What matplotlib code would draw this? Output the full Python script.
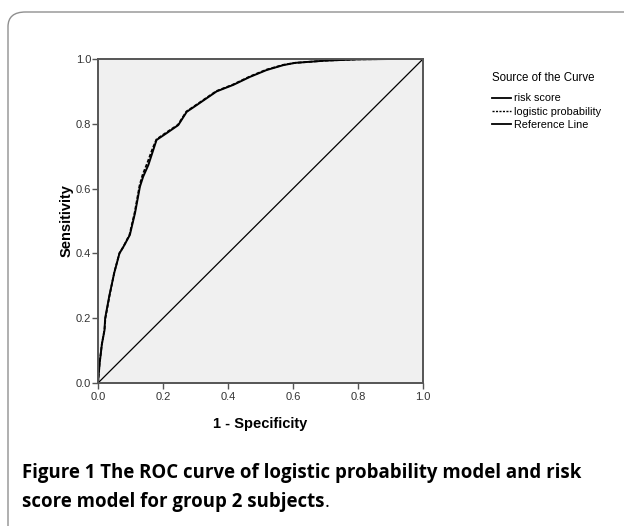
#!/usr/bin/env python3
import matplotlib
matplotlib.use("Agg")
import matplotlib.pyplot as plt
from matplotlib.patches import FancyBboxPatch
from matplotlib.lines import Line2D

# ============================================================
# DATA
# ============================================================
RISK_FPR = [0.0, 0.005, 0.012, 0.020, 0.022, 0.035, 0.050, 0.066, 0.078, 0.098,
            0.114, 0.129, 0.139, 0.155, 0.170, 0.180, 0.211, 0.247, 0.273, 0.304,
            0.365, 0.416, 0.468, 0.519, 0.570, 0.606, 0.700, 0.800, 0.900, 1.0]
RISK_TPR = [0.0, 0.060, 0.120, 0.163, 0.200, 0.270, 0.340, 0.400, 0.420, 0.457,
            0.525, 0.606, 0.637, 0.673, 0.719, 0.750, 0.771, 0.796, 0.837, 0.858,
            0.900, 0.920, 0.945, 0.966, 0.981, 0.988, 0.995, 0.999, 1.000, 1.0]

LOGIT_FPR = [0.0, 0.005, 0.012, 0.020, 0.023, 0.036, 0.050, 0.066, 0.079, 0.097,
             0.113, 0.128, 0.137, 0.152, 0.168, 0.180, 0.210, 0.246, 0.272, 0.303,
             0.364, 0.415, 0.467, 0.518, 0.570, 0.606, 0.700, 0.800, 0.900, 1.0]
LOGIT_TPR = [0.0, 0.062, 0.121, 0.165, 0.201, 0.272, 0.341, 0.401, 0.422, 0.458,
             0.527, 0.610, 0.642, 0.680, 0.724, 0.752, 0.773, 0.797, 0.838, 0.859,
             0.901, 0.921, 0.946, 0.967, 0.982, 0.988, 0.995, 0.999, 1.000, 1.0]

REF_X = [0.0, 1.0]
REF_Y = [0.0, 1.0]

TICKS = [0.0, 0.2, 0.4, 0.6, 0.8, 1.0]
TICK_LABELS = ["0.0", "0.2", "0.4", "0.6", "0.8", "1.0"]

LEGEND_TITLE = "Source of the Curve"
LEGEND_LABELS = ["risk score", "logistic probability", "Reference Line"]

CAPTION_1 = "Figure 1 The ROC curve of logistic probability model and risk"
CAPTION_2 = "score model for group 2 subjects"

# ============================================================
# STYLE
# ============================================================
W, H, DPI = 624, 526, 100
AX_BG = "#f0f0f0"
SPINE_COLOR = "#555555"
TICK_FONT = "Liberation Sans"
CAP_FONT = "Open Sans"
CAP_SIZE = 13.4


def px_x(p):
    return p / W


def px_y(p):
    return 1 - p / H


def main():
    fig = plt.figure(figsize=(W / DPI, H / DPI), dpi=DPI)

    # rounded frame around the whole figure panel
    frame = FancyBboxPatch((px_x(8), px_y(560)), px_x(700), 548 / H,
                           boxstyle="round,pad=0,rounding_size=0.028",
                           transform=fig.transFigure, facecolor="none",
                           edgecolor="#8f8f8f", linewidth=1.0, clip_on=False)
    fig.add_artist(frame)

    ax = fig.add_axes([px_x(98), px_y(383), px_x(423) - px_x(98), px_y(59) - px_y(383)])
    ax.set_facecolor(AX_BG)

    ax.plot(REF_X, REF_Y, color="black", linewidth=0.9)
    ax.plot(LOGIT_FPR, LOGIT_TPR, color="black", linewidth=1.3, linestyle=(0, (2, 1)))
    ax.plot(RISK_FPR, RISK_TPR, color="black", linewidth=1.4)

    ax.set_xlim(0, 1)
    ax.set_ylim(0, 1)
    ax.set_xticks(TICKS)
    ax.set_xticklabels(TICK_LABELS)
    ax.set_yticks(TICKS)
    ax.set_yticklabels(TICK_LABELS)
    ax.tick_params(direction="out", length=4, width=1.0, color=SPINE_COLOR,
                   labelsize=8, labelcolor="#333333", pad=1)
    ax.tick_params(axis="x", pad=2.5)
    for lab in ax.get_xticklabels() + ax.get_yticklabels():
        lab.set_family(TICK_FONT)
    for sp in ax.spines.values():
        sp.set_color(SPINE_COLOR)
        sp.set_linewidth(1.4)

    ax.set_xlabel("1 - Specificity", fontsize=10.5, fontweight="bold",
                  family=TICK_FONT, va="center")
    ax.set_ylabel("Sensitivity", fontsize=10.5, fontweight="bold",
                  family=TICK_FONT, va="center")
    ax.xaxis.set_label_coords(0.5, (383 - 424) / 324)
    ax.yaxis.set_label_coords((67 - 98) / 325, 0.5)

    # legend
    handles = [Line2D([], [], color="black", linewidth=1.3),
               Line2D([], [], color="black", linewidth=1.0, linestyle=(0, (1.5, 1))),
               Line2D([], [], color="black", linewidth=1.3)]
    leg = fig.legend(handles, LEGEND_LABELS, title=LEGEND_TITLE, loc="upper left",
                     bbox_to_anchor=(px_x(482), px_y(62)), frameon=False,
                     handlelength=1.8, handletextpad=0.3, labelspacing=0.3,
                     alignment="left", prop={"family": TICK_FONT, "size": 7.8},
                     title_fontproperties={"family": TICK_FONT, "size": 8.3})
    leg._legend_box.sep = 7

    # caption
    fig.text(px_x(22), px_y(478), CAPTION_1, fontsize=CAP_SIZE, fontweight="bold",
             family=CAP_FONT, va="baseline", ha="left")
    t2 = fig.text(px_x(22), px_y(507), CAPTION_2, fontsize=CAP_SIZE, fontweight="bold",
                  family=CAP_FONT, va="baseline", ha="left")
    fig.canvas.draw()
    bb = t2.get_window_extent()
    fig.text(bb.x1 / W, px_y(507), ".", fontsize=CAP_SIZE, family=CAP_FONT,
             va="baseline", ha="left")

    fig.savefig("out.png", dpi=DPI)
    plt.close(fig)


if __name__ == "__main__":
    main()
